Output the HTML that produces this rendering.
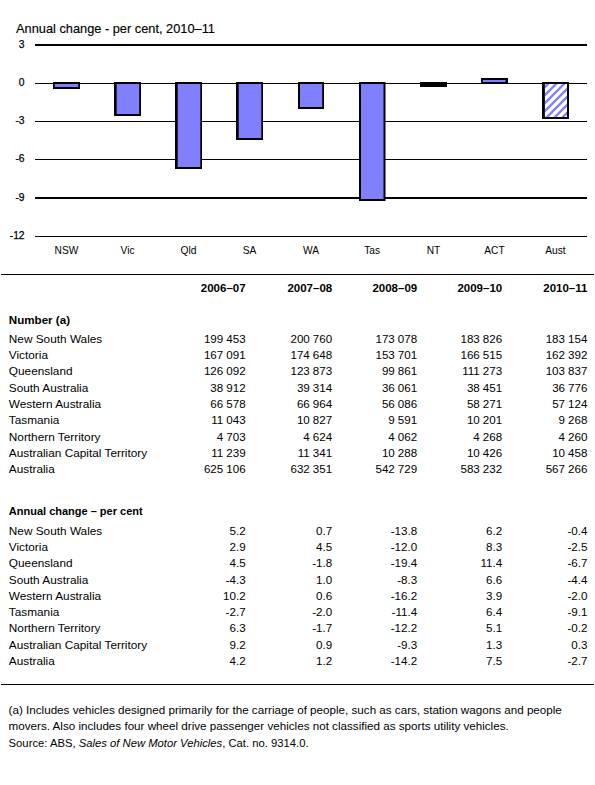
<!DOCTYPE html><html><head><meta charset="utf-8"><style>html,body{margin:0;padding:0;background:#fff;}svg{display:block;}text{font-family:"Liberation Sans",sans-serif;fill:#000;}.c{stroke:#000;stroke-width:0.25;}.t{stroke:#000;stroke-width:0.15;}</style></head><body>
<svg width="595" height="785" viewBox="0 0 595 785">
<defs><pattern id="h" patternUnits="userSpaceOnUse" width="8" height="8"><path d="M-2,2 L2,-2 M0,8 L8,0 M6,10 L10,6" stroke="#8080ff" stroke-width="2.3"/></pattern></defs>
<rect width="595" height="785" fill="#fff"/>
<text class="t" x="16" y="33" font-size="12.8">Annual change - per cent, 2010–11</text>
<rect x="35" y="44" width="552" height="2" fill="#000"/>
<rect x="35" y="83" width="552" height="1" fill="#000"/>
<rect x="35" y="121" width="552" height="1" fill="#000"/>
<rect x="35" y="159" width="552" height="1" fill="#000"/>
<rect x="35" y="197" width="552" height="2" fill="#000"/>
<rect x="35" y="236" width="552" height="1" fill="#000"/>
<text class="c" x="24.6" y="47.8" font-size="10.3" text-anchor="end">3</text>
<text class="c" x="24.6" y="86.3" font-size="10.3" text-anchor="end">0</text>
<text class="c" x="24.6" y="124.3" font-size="10.3" text-anchor="end">-3</text>
<text class="c" x="24.6" y="162.3" font-size="10.3" text-anchor="end">-6</text>
<text class="c" x="24.6" y="201.3" font-size="10.3" text-anchor="end">-9</text>
<text class="c" x="24.6" y="239.3" font-size="10.3" text-anchor="end">-12</text>
<rect x="53" y="82" width="27" height="7" fill="#000"/>
<rect x="54.8" y="84" width="23.4" height="3" fill="#8080ff"/>
<rect x="114" y="82" width="27" height="34" fill="#000"/>
<rect x="116.7" y="84" width="22.5" height="30" fill="#8080ff"/>
<rect x="175" y="82" width="27" height="87" fill="#000"/>
<rect x="177.7" y="84" width="22.6" height="83" fill="#8080ff"/>
<rect x="236" y="82" width="27" height="58" fill="#000"/>
<rect x="238.7" y="84" width="22.6" height="54" fill="#8080ff"/>
<rect x="298" y="82" width="26" height="27" fill="#000"/>
<rect x="300" y="84" width="22.2" height="23" fill="#8080ff"/>
<rect x="359" y="82" width="26.5" height="119" fill="#000"/>
<rect x="361" y="84" width="22.5" height="115" fill="#8080ff"/>
<rect x="420" y="82" width="27" height="5" fill="#000"/>
<rect x="481" y="78" width="27" height="6" fill="#000"/>
<rect x="482.8" y="80" width="22.8" height="2" fill="#8080ff"/>
<rect x="542" y="82" width="27" height="37" fill="#000"/>
<rect x="544.9" y="84" width="22.1" height="33" fill="#fff"/>
<rect x="544.9" y="84" width="22.1" height="33" fill="url(#h)"/>
<text x="66.5" y="253.7" font-size="10.2" text-anchor="middle">NSW</text>
<text x="127.5" y="253.7" font-size="10.2" text-anchor="middle">Vic</text>
<text x="188.5" y="253.7" font-size="10.2" text-anchor="middle">Qld</text>
<text x="249.5" y="253.7" font-size="10.2" text-anchor="middle">SA</text>
<text x="311.0" y="253.7" font-size="10.2" text-anchor="middle">WA</text>
<text x="372.2" y="253.7" font-size="10.2" text-anchor="middle">Tas</text>
<text x="433.5" y="253.7" font-size="10.2" text-anchor="middle">NT</text>
<text x="494.5" y="253.7" font-size="10.2" text-anchor="middle">ACT</text>
<text x="555.5" y="253.7" font-size="10.2" text-anchor="middle">Aust</text>
<rect x="1" y="274" width="593" height="1" fill="#000"/>
<rect x="1" y="684" width="593" height="1" fill="#000"/>
<text x="245.6" y="291.8" font-size="11.5" font-weight="bold" text-anchor="end">2006–07</text>
<text x="332.2" y="291.8" font-size="11.5" font-weight="bold" text-anchor="end">2007–08</text>
<text x="417.2" y="291.8" font-size="11.5" font-weight="bold" text-anchor="end">2008–09</text>
<text x="502.2" y="291.8" font-size="11.5" font-weight="bold" text-anchor="end">2009–10</text>
<text x="587.4" y="291.8" font-size="11.5" font-weight="bold" text-anchor="end">2010–11</text>
<text x="8.8" y="323.8" font-size="11.6" font-weight="bold">Number (a)</text>
<text transform="translate(8.8,342.7) scale(1.076,1)" font-size="11.0">New South Wales</text>
<text x="245.6" y="342.7" font-size="11.6" word-spacing="-0.2" text-anchor="end">199 453</text>
<text x="332.2" y="342.7" font-size="11.6" word-spacing="-0.2" text-anchor="end">200 760</text>
<text x="417.2" y="342.7" font-size="11.6" word-spacing="-0.2" text-anchor="end">173 078</text>
<text x="502.2" y="342.7" font-size="11.6" word-spacing="-0.2" text-anchor="end">183 826</text>
<text x="587.4" y="342.7" font-size="11.6" word-spacing="-0.2" text-anchor="end">183 154</text>
<text transform="translate(8.8,359.0) scale(1.076,1)" font-size="11.0">Victoria</text>
<text x="245.6" y="359.0" font-size="11.6" word-spacing="-0.2" text-anchor="end">167 091</text>
<text x="332.2" y="359.0" font-size="11.6" word-spacing="-0.2" text-anchor="end">174 648</text>
<text x="417.2" y="359.0" font-size="11.6" word-spacing="-0.2" text-anchor="end">153 701</text>
<text x="502.2" y="359.0" font-size="11.6" word-spacing="-0.2" text-anchor="end">166 515</text>
<text x="587.4" y="359.0" font-size="11.6" word-spacing="-0.2" text-anchor="end">162 392</text>
<text transform="translate(8.8,375.4) scale(1.076,1)" font-size="11.0">Queensland</text>
<text x="245.6" y="375.4" font-size="11.6" word-spacing="-0.2" text-anchor="end">126 092</text>
<text x="332.2" y="375.4" font-size="11.6" word-spacing="-0.2" text-anchor="end">123 873</text>
<text x="417.2" y="375.4" font-size="11.6" word-spacing="-0.2" text-anchor="end">99 861</text>
<text x="502.2" y="375.4" font-size="11.6" word-spacing="-0.2" text-anchor="end">111 273</text>
<text x="587.4" y="375.4" font-size="11.6" word-spacing="-0.2" text-anchor="end">103 837</text>
<text transform="translate(8.8,391.7) scale(1.076,1)" font-size="11.0">South Australia</text>
<text x="245.6" y="391.7" font-size="11.6" word-spacing="-0.2" text-anchor="end">38 912</text>
<text x="332.2" y="391.7" font-size="11.6" word-spacing="-0.2" text-anchor="end">39 314</text>
<text x="417.2" y="391.7" font-size="11.6" word-spacing="-0.2" text-anchor="end">36 061</text>
<text x="502.2" y="391.7" font-size="11.6" word-spacing="-0.2" text-anchor="end">38 451</text>
<text x="587.4" y="391.7" font-size="11.6" word-spacing="-0.2" text-anchor="end">36 776</text>
<text transform="translate(8.8,408.0) scale(1.076,1)" font-size="11.0">Western Australia</text>
<text x="245.6" y="408.0" font-size="11.6" word-spacing="-0.2" text-anchor="end">66 578</text>
<text x="332.2" y="408.0" font-size="11.6" word-spacing="-0.2" text-anchor="end">66 964</text>
<text x="417.2" y="408.0" font-size="11.6" word-spacing="-0.2" text-anchor="end">56 086</text>
<text x="502.2" y="408.0" font-size="11.6" word-spacing="-0.2" text-anchor="end">58 271</text>
<text x="587.4" y="408.0" font-size="11.6" word-spacing="-0.2" text-anchor="end">57 124</text>
<text transform="translate(8.8,424.3) scale(1.076,1)" font-size="11.0">Tasmania</text>
<text x="245.6" y="424.3" font-size="11.6" word-spacing="-0.2" text-anchor="end">11 043</text>
<text x="332.2" y="424.3" font-size="11.6" word-spacing="-0.2" text-anchor="end">10 827</text>
<text x="417.2" y="424.3" font-size="11.6" word-spacing="-0.2" text-anchor="end">9 591</text>
<text x="502.2" y="424.3" font-size="11.6" word-spacing="-0.2" text-anchor="end">10 201</text>
<text x="587.4" y="424.3" font-size="11.6" word-spacing="-0.2" text-anchor="end">9 268</text>
<text transform="translate(8.8,440.7) scale(1.076,1)" font-size="11.0">Northern Territory</text>
<text x="245.6" y="440.7" font-size="11.6" word-spacing="-0.2" text-anchor="end">4 703</text>
<text x="332.2" y="440.7" font-size="11.6" word-spacing="-0.2" text-anchor="end">4 624</text>
<text x="417.2" y="440.7" font-size="11.6" word-spacing="-0.2" text-anchor="end">4 062</text>
<text x="502.2" y="440.7" font-size="11.6" word-spacing="-0.2" text-anchor="end">4 268</text>
<text x="587.4" y="440.7" font-size="11.6" word-spacing="-0.2" text-anchor="end">4 260</text>
<text transform="translate(8.8,457.0) scale(1.076,1)" font-size="11.0">Australian Capital Territory</text>
<text x="245.6" y="457.0" font-size="11.6" word-spacing="-0.2" text-anchor="end">11 239</text>
<text x="332.2" y="457.0" font-size="11.6" word-spacing="-0.2" text-anchor="end">11 341</text>
<text x="417.2" y="457.0" font-size="11.6" word-spacing="-0.2" text-anchor="end">10 288</text>
<text x="502.2" y="457.0" font-size="11.6" word-spacing="-0.2" text-anchor="end">10 426</text>
<text x="587.4" y="457.0" font-size="11.6" word-spacing="-0.2" text-anchor="end">10 458</text>
<text transform="translate(8.8,473.3) scale(1.076,1)" font-size="11.0">Australia</text>
<text x="245.6" y="473.3" font-size="11.6" word-spacing="-0.2" text-anchor="end">625 106</text>
<text x="332.2" y="473.3" font-size="11.6" word-spacing="-0.2" text-anchor="end">632 351</text>
<text x="417.2" y="473.3" font-size="11.6" word-spacing="-0.2" text-anchor="end">542 729</text>
<text x="502.2" y="473.3" font-size="11.6" word-spacing="-0.2" text-anchor="end">583 232</text>
<text x="587.4" y="473.3" font-size="11.6" word-spacing="-0.2" text-anchor="end">567 266</text>
<text x="8.8" y="514.5" font-size="11.0" font-weight="bold">Annual change – per cent</text>
<text transform="translate(8.8,534.7) scale(1.076,1)" font-size="11.0">New South Wales</text>
<text x="245.6" y="534.7" font-size="11.6" word-spacing="-0.2" text-anchor="end">5.2</text>
<text x="332.2" y="534.7" font-size="11.6" word-spacing="-0.2" text-anchor="end">0.7</text>
<text x="417.2" y="534.7" font-size="11.6" word-spacing="-0.2" text-anchor="end">-13.8</text>
<text x="502.2" y="534.7" font-size="11.6" word-spacing="-0.2" text-anchor="end">6.2</text>
<text x="587.4" y="534.7" font-size="11.6" word-spacing="-0.2" text-anchor="end">-0.4</text>
<text transform="translate(8.8,551.0) scale(1.076,1)" font-size="11.0">Victoria</text>
<text x="245.6" y="551.0" font-size="11.6" word-spacing="-0.2" text-anchor="end">2.9</text>
<text x="332.2" y="551.0" font-size="11.6" word-spacing="-0.2" text-anchor="end">4.5</text>
<text x="417.2" y="551.0" font-size="11.6" word-spacing="-0.2" text-anchor="end">-12.0</text>
<text x="502.2" y="551.0" font-size="11.6" word-spacing="-0.2" text-anchor="end">8.3</text>
<text x="587.4" y="551.0" font-size="11.6" word-spacing="-0.2" text-anchor="end">-2.5</text>
<text transform="translate(8.8,567.2) scale(1.076,1)" font-size="11.0">Queensland</text>
<text x="245.6" y="567.2" font-size="11.6" word-spacing="-0.2" text-anchor="end">4.5</text>
<text x="332.2" y="567.2" font-size="11.6" word-spacing="-0.2" text-anchor="end">-1.8</text>
<text x="417.2" y="567.2" font-size="11.6" word-spacing="-0.2" text-anchor="end">-19.4</text>
<text x="502.2" y="567.2" font-size="11.6" word-spacing="-0.2" text-anchor="end">11.4</text>
<text x="587.4" y="567.2" font-size="11.6" word-spacing="-0.2" text-anchor="end">-6.7</text>
<text transform="translate(8.8,583.5) scale(1.076,1)" font-size="11.0">South Australia</text>
<text x="245.6" y="583.5" font-size="11.6" word-spacing="-0.2" text-anchor="end">-4.3</text>
<text x="332.2" y="583.5" font-size="11.6" word-spacing="-0.2" text-anchor="end">1.0</text>
<text x="417.2" y="583.5" font-size="11.6" word-spacing="-0.2" text-anchor="end">-8.3</text>
<text x="502.2" y="583.5" font-size="11.6" word-spacing="-0.2" text-anchor="end">6.6</text>
<text x="587.4" y="583.5" font-size="11.6" word-spacing="-0.2" text-anchor="end">-4.4</text>
<text transform="translate(8.8,599.7) scale(1.076,1)" font-size="11.0">Western Australia</text>
<text x="245.6" y="599.7" font-size="11.6" word-spacing="-0.2" text-anchor="end">10.2</text>
<text x="332.2" y="599.7" font-size="11.6" word-spacing="-0.2" text-anchor="end">0.6</text>
<text x="417.2" y="599.7" font-size="11.6" word-spacing="-0.2" text-anchor="end">-16.2</text>
<text x="502.2" y="599.7" font-size="11.6" word-spacing="-0.2" text-anchor="end">3.9</text>
<text x="587.4" y="599.7" font-size="11.6" word-spacing="-0.2" text-anchor="end">-2.0</text>
<text transform="translate(8.8,616.0) scale(1.076,1)" font-size="11.0">Tasmania</text>
<text x="245.6" y="616.0" font-size="11.6" word-spacing="-0.2" text-anchor="end">-2.7</text>
<text x="332.2" y="616.0" font-size="11.6" word-spacing="-0.2" text-anchor="end">-2.0</text>
<text x="417.2" y="616.0" font-size="11.6" word-spacing="-0.2" text-anchor="end">-11.4</text>
<text x="502.2" y="616.0" font-size="11.6" word-spacing="-0.2" text-anchor="end">6.4</text>
<text x="587.4" y="616.0" font-size="11.6" word-spacing="-0.2" text-anchor="end">-9.1</text>
<text transform="translate(8.8,632.2) scale(1.076,1)" font-size="11.0">Northern Territory</text>
<text x="245.6" y="632.2" font-size="11.6" word-spacing="-0.2" text-anchor="end">6.3</text>
<text x="332.2" y="632.2" font-size="11.6" word-spacing="-0.2" text-anchor="end">-1.7</text>
<text x="417.2" y="632.2" font-size="11.6" word-spacing="-0.2" text-anchor="end">-12.2</text>
<text x="502.2" y="632.2" font-size="11.6" word-spacing="-0.2" text-anchor="end">5.1</text>
<text x="587.4" y="632.2" font-size="11.6" word-spacing="-0.2" text-anchor="end">-0.2</text>
<text transform="translate(8.8,648.5) scale(1.076,1)" font-size="11.0">Australian Capital Territory</text>
<text x="245.6" y="648.5" font-size="11.6" word-spacing="-0.2" text-anchor="end">9.2</text>
<text x="332.2" y="648.5" font-size="11.6" word-spacing="-0.2" text-anchor="end">0.9</text>
<text x="417.2" y="648.5" font-size="11.6" word-spacing="-0.2" text-anchor="end">-9.3</text>
<text x="502.2" y="648.5" font-size="11.6" word-spacing="-0.2" text-anchor="end">1.3</text>
<text x="587.4" y="648.5" font-size="11.6" word-spacing="-0.2" text-anchor="end">0.3</text>
<text transform="translate(8.8,664.7) scale(1.076,1)" font-size="11.0">Australia</text>
<text x="245.6" y="664.7" font-size="11.6" word-spacing="-0.2" text-anchor="end">4.2</text>
<text x="332.2" y="664.7" font-size="11.6" word-spacing="-0.2" text-anchor="end">1.2</text>
<text x="417.2" y="664.7" font-size="11.6" word-spacing="-0.2" text-anchor="end">-14.2</text>
<text x="502.2" y="664.7" font-size="11.6" word-spacing="-0.2" text-anchor="end">7.5</text>
<text x="587.4" y="664.7" font-size="11.6" word-spacing="-0.2" text-anchor="end">-2.7</text>
<text x="8.6" y="713.6" font-size="11.65">(a) Includes vehicles designed primarily for the carriage of people, such as cars, station wagons and people</text>
<text x="8.6" y="729.9" font-size="11.65">movers. Also includes four wheel drive passenger vehicles not classified as sports utility vehicles.</text>
<text x="8.6" y="746.6" font-size="11.65" textLength="300" lengthAdjust="spacingAndGlyphs">Source: ABS, <tspan font-style="italic">Sales of New Motor Vehicles</tspan>, Cat. no. 9314.0.</text>
</svg></body></html>
